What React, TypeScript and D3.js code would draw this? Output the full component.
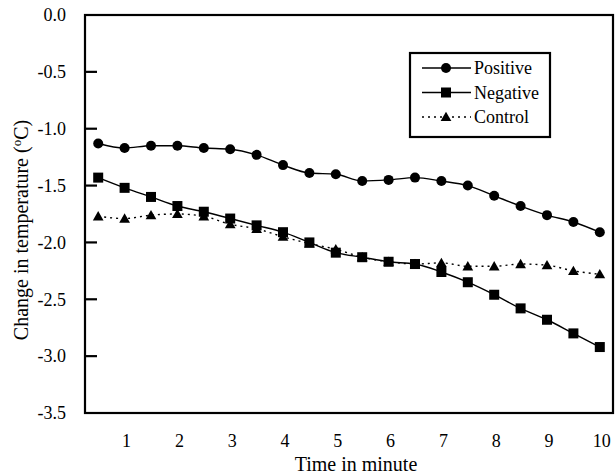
import React from 'react'
import * as d3 from 'd3'

const times = [0.5, 1, 1.5, 2, 2.5, 3, 3.5, 4, 4.5, 5, 5.5, 6, 6.5, 7, 7.5, 8, 8.5, 9, 9.5, 10]
const positive = [-1.13, -1.17, -1.15, -1.15, -1.17, -1.18, -1.23, -1.32, -1.39, -1.4, -1.46, -1.45, -1.43, -1.46, -1.5, -1.59, -1.68, -1.76, -1.82, -1.91]
const negative = [-1.43, -1.52, -1.6, -1.68, -1.73, -1.79, -1.85, -1.91, -2.0, -2.09, -2.13, -2.17, -2.19, -2.26, -2.35, -2.46, -2.58, -2.68, -2.8, -2.92]
const control = [-1.77, -1.79, -1.76, -1.75, -1.77, -1.84, -1.88, -1.95, -2.01, -2.06, -2.13, -2.17, -2.19, -2.18, -2.21, -2.21, -2.19, -2.2, -2.25, -2.28]
const xTicks = [1, 2, 3, 4, 5, 6, 7, 8, 9, 10]
const yTicks = [0, -0.5, -1, -1.5, -2, -2.5, -3, -3.5]
const seriesNames = ['Positive', 'Negative', 'Control']

const font = "'Times New Roman', Times, 'Liberation Serif', 'DejaVu Serif', serif"

const Marker = ({ kind, x, y }: { kind: string; x: number; y: number }) => {
  if (kind === 'Positive') return <circle cx={x} cy={y} r={5} fill="#000" />
  if (kind === 'Negative') return <rect x={x - 5} y={y - 5} width={10} height={10} fill="#000" />
  const sym = d3.symbol().type(d3.symbolTriangle).size(50)
  return <path d={sym() as string} transform={`translate(${x},${y + 1})`} fill="#000" />
}

const App = () => {
  const left = 85
  const right = 613
  const top = 15
  const bottom = 413

  const x = d3.scaleLinear().domain([0.25, 10.25]).range([left, right])
  const y = d3.scaleLinear().domain([-3.5, 0]).range([bottom, top])

  const series = [
    { name: 'Positive', values: positive, dash: undefined },
    { name: 'Negative', values: negative, dash: undefined },
    { name: 'Control', values: control, dash: '2,4' },
  ]

  const line = d3
    .line<number>()
    .x((_, i) => x(times[i]))
    .y((d) => y(d))
    .curve(d3.curveMonotoneX)

  return (
    <svg width={616} height={475} style={{ position: 'absolute', left: 0, top: 0, background: '#fff' }}>
      <rect x={0} y={0} width={616} height={475} fill="#fff" />
      {/* series */}
      {series.map((s) => (
        <g key={s.name}>
          <path d={line(s.values) as string} fill="none" stroke="#000" strokeWidth={1.4} strokeDasharray={s.dash} />
          {s.values.map((v, i) => (
            <Marker key={i} kind={s.name} x={x(times[i])} y={y(v)} />
          ))}
        </g>
      ))}
      {/* frame */}
      <rect x={left} y={top} width={right - left} height={bottom - top} fill="none" stroke="#000" strokeWidth={2.2} />
      <g style={{ fontFamily: font }}>
        {/* y ticks */}
        {yTicks.map((t) => (
          <g key={t}>
            {t > -3.5 && t < 0 && <line x1={left} x2={left + 12} y1={y(t)} y2={y(t)} stroke="#000" strokeWidth={2.2} />}
            <text x={66} y={y(t)} dy="0.35em" textAnchor="end" fontSize={18} fontFamily={font}>
              {t.toFixed(1)}
            </text>
          </g>
        ))}
        {/* x tick labels */}
        {xTicks.map((t) => (
          <text key={t} x={x(t) + 2} y={447} textAnchor="middle" fontSize={18} fontFamily={font}>
            {t}
          </text>
        ))}
        <text x={356} y={471} textAnchor="middle" fontSize={20} fontFamily={font}>
          Time in minute
        </text>
        <text transform={`translate(28,230) rotate(-90)`} textAnchor="middle" fontSize={20} fontFamily={font}>
          Change in temperature (<tspan dy={-7} fontSize={13}>o</tspan>
          <tspan dy={7}>C)</tspan>
        </text>
        {/* legend */}
        <rect x={410} y={53} width={140} height={84} fill="#fff" stroke="#000" strokeWidth={2.2} />
        {seriesNames.map((n, i) => {
          const ly = 68 + i * 24.5
          return (
            <g key={n}>
              <line x1={422} x2={471} y1={ly} y2={ly} stroke="#000" strokeWidth={1.4} strokeDasharray={n === 'Control' ? '2,4' : undefined} />
              <Marker kind={n} x={446} y={ly} />
              <text x={474} y={ly} dy="0.35em" fontSize={18} fontFamily={font}>
                {n}
              </text>
            </g>
          )
        })}
      </g>
    </svg>
  )
}

export default App
